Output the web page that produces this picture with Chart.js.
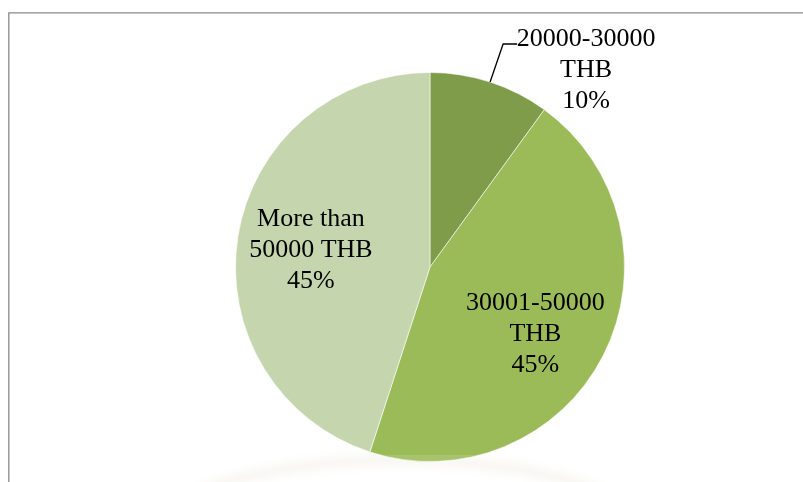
<!DOCTYPE html>
<html>
<head>
<meta charset="utf-8">
<script src="https://cdn.jsdelivr.net/npm/chart.js@4/dist/chart.umd.min.js"></script>
<style>
  html, body { margin: 0; padding: 0; background: #fff; }
  #wrap { position: relative; width: 803px; height: 482px; }
</style>
</head>
<body>
<div id="wrap"><canvas id="pie" width="803" height="482"></canvas></div>
<script>
const categories = ["20000-30000 THB", "30001-50000 THB", "More than 50000 THB"];
const labelLines = [["20000-30000", "THB"], ["30001-50000", "THB"], ["More than", "50000 THB"]];
const shares = [10, 45, 45];
const sliceColors = ["#7f9c4a", "#9bbb59", "#c5d6ae"];

// where each data label sits: inside ones at a fraction of the radius on the
// slice's mid angle (plus a nudge), outside ones with an elbow leader line
const labelLayout = [
  { outside: true, elbow: [13, -38], text: [96, -12] },
  { dist: 0.62, nudge: [-2, 12] },
  { dist: 0.62, nudge: [0, 2] }
];

const frameAndLabels = {
  id: "frameAndLabels",
  beforeDatasetsDraw(chart) {
    const ctx = chart.ctx;
    // faint reflection ring under the pie
    ctx.save();
    ctx.strokeStyle = "rgba(235,231,218,0.35)";
    ctx.lineWidth = 12;
    ctx.filter = "blur(4px)";
    ctx.beginPath();
    ctx.ellipse(400, 540, 250, 80, 0, Math.PI * 1.05, Math.PI * 1.95);
    ctx.stroke();
    ctx.restore();
  },
  afterDatasetsDraw(chart) {
    const ctx = chart.ctx;
    const meta = chart.getDatasetMeta(0);

    // slight light band across the base of the pie
    const arc0 = meta.data[0];
    ctx.save();
    ctx.beginPath();
    ctx.arc(arc0.x, arc0.y, arc0.outerRadius, 0, Math.PI * 2);
    ctx.clip();
    ctx.fillStyle = "rgba(255,255,255,0.12)";
    ctx.fillRect(0, 455, chart.width, chart.height - 455);
    ctx.restore();

    ctx.save();
    ctx.font = "26px 'Liberation Serif', 'Times New Roman', serif";
    ctx.fillStyle = "#000";
    ctx.textAlign = "center";
    ctx.textBaseline = "middle";
    const lineH = 31;

    meta.data.forEach((arc, i) => {
      const lay = labelLayout[i];
      const mid = (arc.startAngle + arc.endAngle) / 2;
      const lines = labelLines[i].concat([shares[i] + "%"]);
      let cx, cy;
      if (lay.outside) {
        const ex = arc.x + Math.cos(mid) * arc.outerRadius;
        const ey = arc.y + Math.sin(mid) * arc.outerRadius;
        const bx = ex + lay.elbow[0], by = ey + lay.elbow[1];
        ctx.save();
        ctx.strokeStyle = "#000";
        ctx.lineWidth = 1.3;
        ctx.beginPath();
        ctx.moveTo(ex, ey);
        ctx.lineTo(bx, by);
        ctx.lineTo(bx + 14, by);
        ctx.stroke();
        ctx.restore();
        cx = ex + lay.text[0];
        cy = ey + lay.text[1];
      } else {
        cx = arc.x + Math.cos(mid) * arc.outerRadius * lay.dist + lay.nudge[0];
        cy = arc.y + Math.sin(mid) * arc.outerRadius * lay.dist + lay.nudge[1];
      }
      lines.forEach((t, k) => {
        ctx.fillText(t, cx, cy + (k - 1) * lineH);
      });
    });
    ctx.restore();

    // chart frame (left and top edges)
    ctx.save();
    ctx.strokeStyle = "#8a8a8a";
    ctx.lineWidth = 1.3;
    ctx.beginPath();
    ctx.moveTo(8.8, chart.height);
    ctx.lineTo(8.8, 12.8);
    ctx.lineTo(chart.width, 12.8);
    ctx.stroke();
    ctx.restore();
  }
};

new Chart(document.getElementById("pie"), {
  type: "pie",
  data: {
    labels: categories,
    datasets: [{
      data: shares,
      backgroundColor: sliceColors,
      borderColor: "rgba(255,255,255,0.55)",
      borderWidth: 1
    }]
  },
  options: {
    responsive: false,
    animation: false,
    layout: { padding: { left: 235, right: 178, top: 72, bottom: 20 } },
    plugins: {
      legend: { display: false },
      tooltip: { enabled: false }
    }
  },
  plugins: [frameAndLabels]
});
</script>
</body>
</html>
